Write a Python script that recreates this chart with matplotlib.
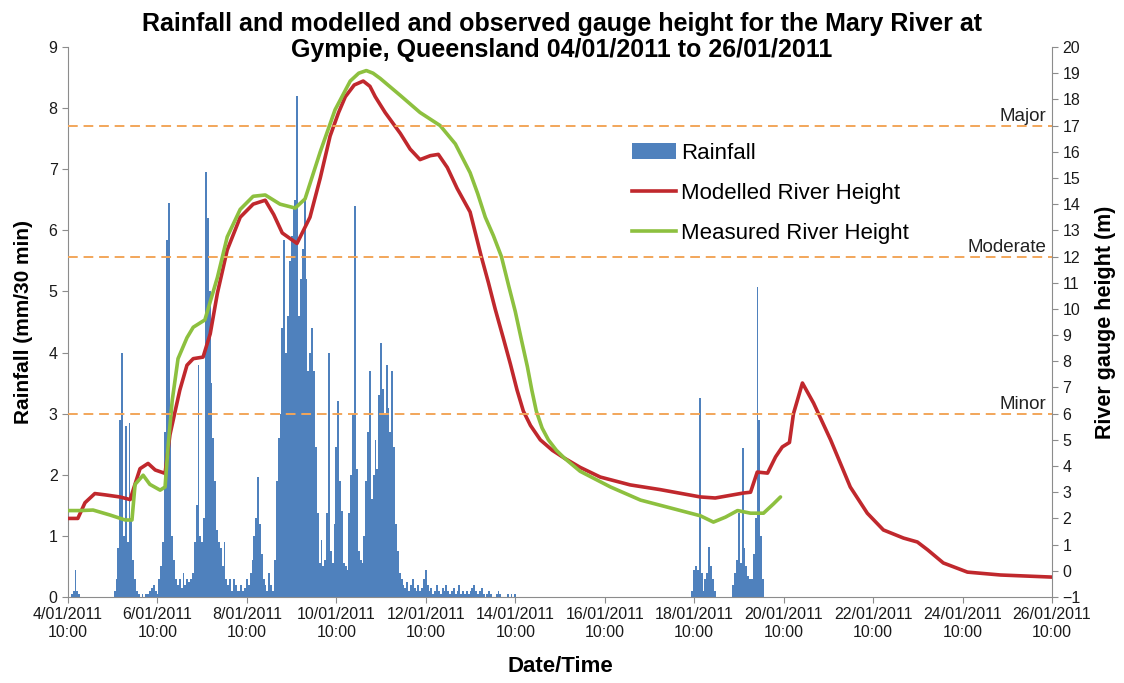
import numpy as np
import pandas as pd
import matplotlib
matplotlib.use('Agg')
import matplotlib.pyplot as plt
import matplotlib.dates as mdates
from matplotlib.patches import Patch
from matplotlib.lines import Line2D

plt.rcParams['font.family'] = ['Liberation Sans', 'DejaVu Sans']

START = pd.Timestamp('2011-01-04 10:00')
END = pd.Timestamp('2011-01-26 10:00')

# ---- rainfall bursts (hourly samples, mm/30 min) ----
rain_04jan_start = '2011-01-04 12:00'
rain_04jan = [0.05, 0.1, 0.45, 0.1, 0.05]

rain_05jan_start = '2011-01-05 11:00'
rain_05jan = [0.1, 0.3, 0.8, 2.9, 4.0, 1.0, 2.8, 0.9, 2.85, 1.3, 0.6, 0.3,
              0.1, 0.05, 0, 0.05, 0, 0.05, 0.05, 0.1, 0.15, 0.2, 0.1, 0.05]

rain_06jan_start = '2011-01-06 11:00'
rain_06jan = [0.3, 0.5, 0.9, 2.7, 5.85, 6.45, 2.7, 1.0, 0.6, 0.3,
              0.2, 0.3, 0.15, 0.4, 0.2, 0.3, 0.25, 0.3,
              0.4, 0.9, 1.5, 3.8, 1.0, 0.9, 1.3, 6.95, 6.2, 5.0, 3.5, 2.6, 1.9,
              1.1, 0.9, 0.8, 0.5, 0.9, 0.3,
              0.2, 0.3, 0.1, 0.3, 0.2, 0.1, 0.1, 0.2, 0.1, 0.15, 0.3, 0.2, 0.4,
              0.6, 1.0, 1.3, 1.96, 1.2, 0.7, 0.3, 0.2, 0.1, 0.4, 0.2, 0.1]

rain_09jan_start = '2011-01-09 01:00'
rain_09jan = [0.6, 1.9, 2.6, 3.0, 4.4, 5.84, 4.0, 4.6, 5.5, 5.9, 6.4, 6.5, 8.2,
              4.6, 5.2, 5.7, 6.55, 5.2, 3.7, 4.0, 4.4, 3.7, 2.46, 1.37, 0.55,
              0.93, 0.5, 0.6, 1.37, 4.0, 0.75, 0.55, 1.2, 2.46, 3.2, 1.9, 1.4,
              0.55, 0.5, 0.45, 1.37, 2.0, 3.0, 6.4, 2.1, 0.75, 0.6, 0.55, 1.0,
              1.9, 2.7, 3.7, 1.6, 2.0, 2.57, 2.1, 3.3, 4.15, 3.4, 3.0, 3.8, 3.1,
              2.7, 3.7, 2.46, 1.2, 0.75, 0.4]

rain_11jan_start = '2011-01-11 21:00'
rain_11jan = [0.3, 0.2, 0.15, 0.25, 0.1, 0.2, 0.3, 0.15, 0.1, 0.2, 0.1, 0.15,
              0.3, 0.45, 0.2, 0.1, 0.15, 0.05, 0.1, 0.2, 0.1, 0.05, 0.15, 0.1,
              0.2, 0.1, 0.05, 0.1, 0.15, 0.05, 0.1, 0.2, 0.05, 0.1, 0.05, 0.1,
              0.05, 0.1, 0.15, 0.2, 0.1, 0.05, 0.1, 0.15, 0.05, 0, 0.05, 0.1,
              0.05, 0, 0, 0.05, 0.1, 0.05, 0, 0, 0, 0.05, 0, 0.05, 0, 0.05]

rain_18jan_start = '2011-01-18 09:00'
rain_18jan = [0.1, 0.45, 0.5, 0.45, 3.25, 0.4, 0.1, 0.3, 0.4, 0.82, 0.5, 0.3, 0.1]

rain_19jan_start = '2011-01-19 07:00'
rain_19jan = [0.2, 0.4, 0.6, 1.37, 0.55, 2.44, 0.8, 0.5, 0.35, 0.3, 0.3, 0.7,
              1.3, 5.07, 2.9, 1.0, 0.3]

# ---- river heights (m), days after 04/01/2011 10:00 ----
modelled_days = [0.00, 0.22, 0.38, 0.60, 0.83, 1.16, 1.39, 1.45, 1.61, 1.79,
                 1.95, 2.17, 2.28, 2.50, 2.66, 2.80, 3.02, 3.18, 3.34, 3.56,
                 3.85, 4.14, 4.41, 4.60, 4.79, 5.12, 5.41, 5.64, 5.86, 6.05,
                 6.20, 6.40, 6.60, 6.75, 6.87, 7.09, 7.43, 7.65, 7.87, 8.10,
                 8.28, 8.48, 8.70, 8.99, 9.24, 9.40, 9.55, 9.73, 9.89, 10.04,
                 10.18, 10.34, 10.56, 10.83, 11.10, 11.45, 11.90, 12.57,
                 13.24, 14.14, 14.47, 15.10, 15.26, 15.41, 15.64, 15.82, 15.97,
                 16.13, 16.22, 16.42, 16.67, 17.05, 17.49, 17.87, 18.23, 18.68,
                 18.99, 19.22, 19.57, 20.11, 20.85, 22.00]
modelled_height = [2.00, 2.00, 2.60, 2.95, 2.90, 2.82, 2.72, 3.05, 3.90, 4.10,
                   3.85, 3.72, 5.20, 6.90, 7.85, 8.10, 8.16, 9.05, 10.6, 12.25,
                   13.5, 14.0, 14.15, 13.6, 12.9, 12.5, 13.5, 15.0, 16.6, 17.5,
                   18.1, 18.55, 18.7, 18.5, 18.1, 17.5, 16.7, 16.1, 15.7, 15.85,
                   15.9, 15.4, 14.6, 13.7, 12.0, 11.0, 10.0, 8.9, 7.9, 6.9,
                   6.1, 5.55, 5.0, 4.6, 4.3, 3.95, 3.58, 3.28,
                   3.10, 2.82, 2.78, 2.97, 3.00, 3.77, 3.73, 4.35, 4.73,
                   4.90, 6.00, 7.17, 6.40, 5.00, 3.20, 2.20, 1.56, 1.25,
                   1.10, 0.80, 0.30, -0.05, -0.16, -0.24]

measured_days = [0.00, 0.27, 0.56, 0.94, 1.28, 1.43, 1.50, 1.68, 1.83, 2.06,
                 2.17, 2.24, 2.33, 2.46, 2.66, 2.80, 3.06, 3.34, 3.56, 3.85,
                 4.14, 4.41, 4.74, 5.08, 5.30, 5.64, 5.97, 6.31, 6.50, 6.67,
                 6.82, 6.98, 7.43, 7.87, 8.32, 8.66, 8.99, 9.16, 9.33, 9.51,
                 9.69, 9.85, 10.00, 10.14, 10.27, 10.37, 10.47, 10.60, 10.74,
                 10.92, 11.10, 11.45, 12.13, 12.80, 13.47, 14.14, 14.43, 14.70,
                 14.97, 15.26, 15.55, 15.77, 15.93]
measured_height = [2.30, 2.30, 2.32, 2.13, 1.94, 1.94, 3.30, 3.65, 3.30, 3.08,
                   3.20, 4.80, 6.50, 8.10, 8.90, 9.30, 9.58, 11.2, 12.75, 13.8,
                   14.3, 14.35, 14.0, 13.85, 14.2, 16.0, 17.6, 18.7, 19.0, 19.1,
                   19.0, 18.8, 18.15, 17.5, 17.0, 16.3, 15.2, 14.4, 13.5, 12.8,
                   12.0, 10.9, 9.9, 8.8, 7.8, 6.9, 6.1, 5.45, 5.0,
                   4.6, 4.3, 3.8, 3.2, 2.7, 2.4, 2.1, 1.86, 2.05,
                   2.3, 2.2, 2.2, 2.55, 2.82]

flood_levels = [17, 12, 6]
flood_names = ['Major', 'Moderate', 'Minor']

tick_days = list(range(0, 23, 2))

# ---- build the rainfall series ----
bursts = [(rain_04jan_start, rain_04jan), (rain_05jan_start, rain_05jan),
          (rain_06jan_start, rain_06jan), (rain_09jan_start, rain_09jan),
          (rain_11jan_start, rain_11jan), (rain_18jan_start, rain_18jan),
          (rain_19jan_start, rain_19jan)]
rain_t, rain_v = [], []
for s, vals in bursts:
    t0 = pd.Timestamp(s)
    rain_t += [t0 + pd.Timedelta(hours=h) for h in range(len(vals))]
    rain_v += vals
rain_x = mdates.date2num(pd.to_datetime(rain_t))


def to_num(days):
    return mdates.date2num(START + pd.to_timedelta(np.array(days), unit='D'))


BLUE = '#4F81BD'
RED = '#C0282D'
GREEN = '#8DC03F'
ORANGE = '#F2A65A'

fig = plt.figure(figsize=(11.24, 6.83), dpi=100)
ax = fig.add_axes([68 / 1124, 1 - 597 / 683, 984 / 1124, 550 / 683])
ax2 = ax.twinx()

ax.bar(rain_x, rain_v, width=1 / 24, align='center', color=BLUE, linewidth=0)

ax2.plot(to_num(modelled_days), modelled_height, color=RED, lw=2.6,
         solid_capstyle='round', solid_joinstyle='round')
ax2.plot(to_num(measured_days), measured_height, color=GREEN, lw=2.6,
         solid_capstyle='round', solid_joinstyle='round')

for lvl, name in zip(flood_levels, flood_names):
    ax2.axhline(lvl, color=ORANGE, lw=1.4, ls=(0, (5, 3)))
    ax2.text(0.994, lvl + 0.03, name, transform=ax2.get_yaxis_transform(),
             ha='right', va='bottom', fontsize=13.5, color='#222222')

ax.set_xlim(mdates.date2num(START), mdates.date2num(END))
ax.set_ylim(0, 9)
ax2.set_ylim(-1, 20)
ax.set_yticks(range(0, 10))
ax2.set_yticks(range(-1, 21))

ticks = to_num(tick_days)
ax.set_xticks(ticks)
labels = []
for d in tick_days:
    t = START + pd.Timedelta(days=d)
    labels.append(f"{t.day}/{t:%m/%Y}\n{t:%H:%M}")
ax.set_xticklabels(labels)

for a in (ax, ax2):
    a.spines['top'].set_visible(False)
    for side in ('left', 'right', 'bottom'):
        a.spines[side].set_color('#8c8c8c')
    a.tick_params(colors='#8c8c8c', labelcolor='#1a1a1a', labelsize=11.5,
                  length=4, direction='out')
ax.spines['right'].set_visible(False)
ax2.spines['left'].set_visible(False)
ax2.spines['bottom'].set_visible(False)

ax.set_ylabel('Rainfall (mm/30 min)', fontsize=15, fontweight='bold', labelpad=11)
ax2.set_ylabel('River gauge height (m)', fontsize=15.5, fontweight='bold', labelpad=10)
ax.set_xlabel('Date/Time', fontsize=16, fontweight='bold', labelpad=12)

fig.suptitle('Rainfall and modelled and observed gauge height for the Mary River at\n'
             'Gympie, Queensland 04/01/2011 to 26/01/2011',
             fontsize=18, fontweight='bold', y=0.983, va='top', linespacing=1.12)

handles = [Patch(facecolor=BLUE, edgecolor='none'),
           Line2D([], [], color=RED, lw=2.6),
           Line2D([], [], color=GREEN, lw=2.6)]
fig.legend(handles, ['Rainfall', 'Modelled River Height', 'Measured River Height'],
           loc='upper left', bbox_to_anchor=(632 / 1124, 1 - 143 / 683),
           frameon=False, fontsize=16, handlelength=2.0, handleheight=0.7,
           handletextpad=0.2, labelspacing=0.85, borderpad=0, borderaxespad=0)

fig.savefig('out.png', dpi=100)
